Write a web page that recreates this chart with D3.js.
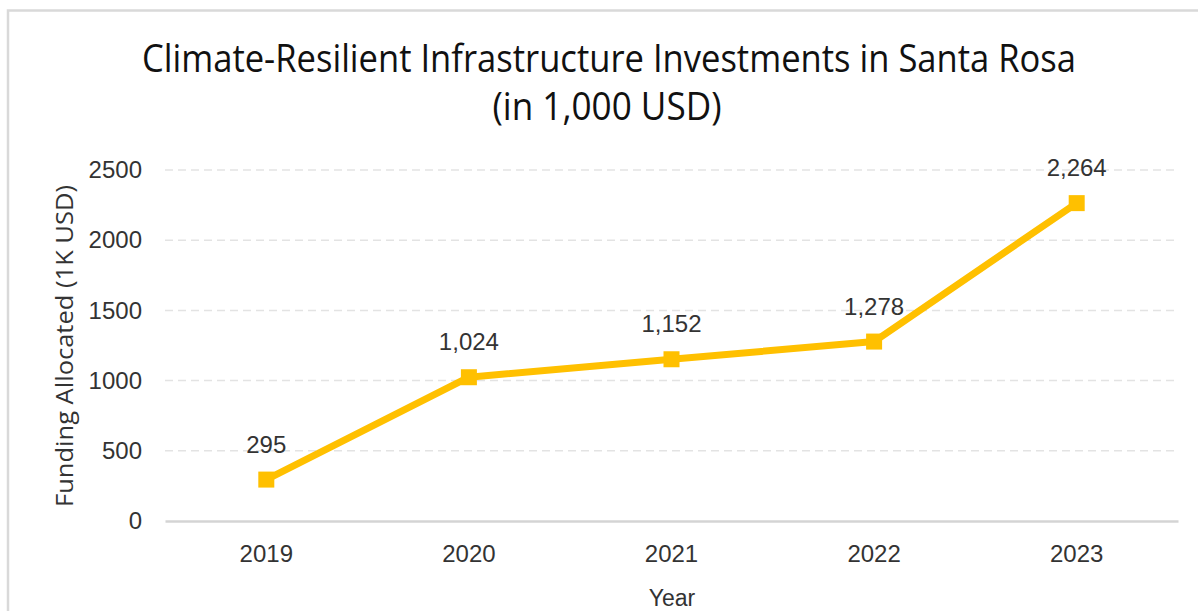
<!DOCTYPE html>
<html>
<head>
<meta charset="utf-8">
<script src="https://cdn.jsdelivr.net/npm/d3@7"></script>
<style>
  html, body { margin: 0; padding: 0; background: #fff; }
  svg { display: block; }
</style>
</head>
<body>
<svg id="chart" width="1198" height="611"></svg>
<script>
const categories = ["2019", "2020", "2021", "2022", "2023"];
const values = [295, 1024, 1152, 1278, 2264];
const yTicks = [0, 500, 1000, 1500, 2000, 2500];
const titleLines = ["Climate-Resilient Infrastructure Investments in Santa Rosa", "(in 1,000 USD)"];
const xTitle = "Year";
const yTitle = "Funding Allocated (1K USD)";

const svg = d3.select("#chart");
const W = 1198, H = 611;
const margin = { left: 165, right: 20, top: 170, bottom: 90 };
const x0 = 165, x1 = 1178, yTop = 170, yBottom = 521;

// outer border
svg.append("rect")
  .attr("x", 8).attr("y", 10.5)
  .attr("width", 1300).attr("height", 700)
  .attr("fill", "#fff")
  .attr("stroke", "#d9d9d9").attr("stroke-width", 2.5);

const x = d3.scaleBand().domain(categories).range([x0, x1]);
const y = d3.scaleLinear().domain([0, 2500]).range([yBottom, yTop]);

// gridlines
svg.append("g")
  .selectAll("line")
  .data(yTicks.filter(d => d > 0))
  .join("line")
  .attr("x1", x0).attr("x2", x1)
  .attr("y1", d => y(d)).attr("y2", d => y(d))
  .attr("stroke", "#e3e3e3").attr("stroke-width", 1.5)
  .attr("stroke-dasharray", "8,5");

// y axis (labels only)
const yAxis = svg.append("g")
  .attr("transform", `translate(${x0},0)`)
  .call(d3.axisLeft(y).tickValues(yTicks).tickSize(0).tickPadding(23).tickFormat(d3.format("d")));
yAxis.select(".domain").remove();
yAxis.selectAll("text")
  .attr("font-family", "'Liberation Sans', Arial, sans-serif")
  .attr("font-size", 24).attr("fill", "#333");

// x axis
const xAxis = svg.append("g")
  .attr("transform", `translate(0,${yBottom})`)
  .call(d3.axisBottom(x).tickSize(0).tickPadding(24));
xAxis.select(".domain").attr("stroke", "#d4d4d4").attr("stroke-width", 2.5);
xAxis.selectAll("text")
  .attr("font-family", "'Liberation Sans', Arial, sans-serif")
  .attr("font-size", 24).attr("fill", "#333");

// line
const cx = d => x(d) + x.bandwidth() / 2;
const line = d3.line().x((d, i) => cx(categories[i])).y(d => y(d));
svg.append("path")
  .datum(values)
  .attr("d", line)
  .attr("fill", "none")
  .attr("stroke", "#FFC000").attr("stroke-width", 7)
  .attr("stroke-linejoin", "round");

// markers
const ms = 16;
svg.append("g").selectAll("rect")
  .data(values)
  .join("rect")
  .attr("x", (d, i) => cx(categories[i]) - ms / 2)
  .attr("y", d => y(d) - ms / 2)
  .attr("width", ms).attr("height", ms)
  .attr("fill", "#FFC000");

// data labels
svg.append("g").selectAll("text")
  .data(values)
  .join("text")
  .attr("x", (d, i) => cx(categories[i]))
  .attr("y", d => y(d) - 27)
  .attr("text-anchor", "middle")
  .attr("font-family", "'Liberation Sans', Arial, sans-serif")
  .attr("font-size", 24).attr("fill", "#333")
  .text(d => d3.format(",")(d));

// title
svg.append("text")
  .attr("x", 609).attr("y", 72)
  .attr("text-anchor", "middle")
  .attr("font-family", "'Open Sans', sans-serif")
  .attr("font-size", 38).attr("fill", "#111")
  .attr("textLength", 934).attr("lengthAdjust", "spacingAndGlyphs")
  .text(titleLines[0]);
svg.append("text")
  .attr("x", 607).attr("y", 120)
  .attr("text-anchor", "middle")
  .attr("font-family", "'Open Sans', sans-serif")
  .attr("font-size", 38).attr("fill", "#111")
  .attr("textLength", 229).attr("lengthAdjust", "spacingAndGlyphs")
  .text(titleLines[1]);

// axis titles
svg.append("text")
  .attr("x", 672).attr("y", 606)
  .attr("text-anchor", "middle")
  .attr("font-family", "'Liberation Sans', Arial, sans-serif")
  .attr("font-size", 23).attr("fill", "#333")
  .text(xTitle);

svg.append("text")
  .attr("transform", "translate(73,346) rotate(-90)")
  .attr("text-anchor", "middle")
  .attr("font-family", "'Open Sans', sans-serif")
  .attr("font-size", 24).attr("fill", "#333")
  .attr("textLength", 322).attr("lengthAdjust", "spacingAndGlyphs")
  .text(yTitle);
</script>
</body>
</html>
